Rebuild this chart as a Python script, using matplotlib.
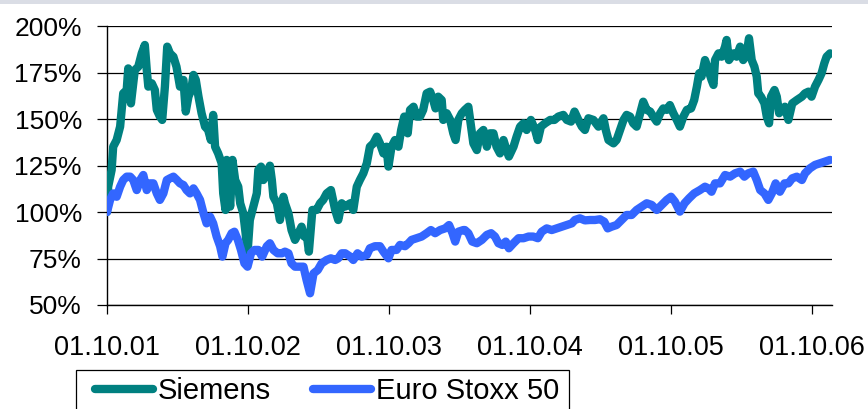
import matplotlib
matplotlib.use("Agg")
import matplotlib.pyplot as plt
import matplotlib.dates as mdates
from matplotlib.ticker import FuncFormatter, FixedLocator
from matplotlib.patches import Rectangle
import numpy as np
import pandas as pd

plt.rcParams['font.family'] = ['Liberation Sans', 'DejaVu Sans']

start_date = "2001-10-01"
end_date = "2006-11-22"

# Days after 01.10.2001 and indexed performance (%)
siemens_days = [0, 3, 12, 16, 25, 34, 42, 51, 55, 62, 72, 81, 90, 98, 103, 107, 116, 124, 129, 137,
                143, 150, 156, 163, 172, 180, 189, 198, 204, 211, 218, 224, 230, 237, 245, 254, 262,
                269, 275, 280, 288, 297, 301, 307, 310, 319, 325, 332, 340, 345, 353, 359, 364, 370,
                379, 388, 392, 399, 405, 414, 422, 427, 431, 440, 448, 457, 461, 470, 478, 487, 496,
                504, 511, 517, 523, 532, 543, 552, 560, 569, 580, 591, 599, 608, 617, 630, 638, 647,
                655, 664, 673, 681, 690, 699, 707, 716, 724, 729, 737, 746, 755, 762, 770, 779, 785,
                794, 802, 811, 819, 828, 837, 845, 851, 858, 867, 871, 880, 889, 897, 903, 910, 919,
                927, 936, 943, 949, 958, 966, 975, 984, 992, 1001, 1009, 1018, 1027, 1035, 1041, 1053,
                1061, 1070, 1079, 1087, 1098, 1109, 1116, 1124, 1135, 1148, 1159, 1169, 1182, 1191,
                1202, 1211, 1221, 1230, 1238, 1247, 1260, 1273, 1286, 1292, 1299, 1312, 1320, 1329,
                1338, 1346, 1355, 1363, 1372, 1381, 1389, 1398, 1407, 1415, 1424, 1433, 1441, 1450,
                1458, 1467, 1476, 1484, 1493, 1502, 1513, 1521, 1528, 1534, 1540, 1547, 1549, 1558,
                1566, 1571, 1575, 1584, 1592, 1601, 1605, 1611, 1623, 1631, 1640, 1648, 1657, 1663,
                1670, 1677, 1683, 1687, 1694, 1703, 1709, 1715, 1720, 1729, 1735, 1741, 1748, 1756,
                1765, 1775, 1787, 1800, 1808, 1817, 1825, 1834, 1843, 1851, 1858, 1864, 1873]
siemens_pct = [100.0, 113.6, 122.6, 135.1, 138.7, 145.9, 163.8, 165.6, 177.2, 158.4, 176.3, 178.1,
               185.3, 189.8, 176.3, 167.4, 169.2, 165.6, 154.9, 151.3, 149.5, 167.4, 188.9, 185.3,
               183.5, 178.1, 167.4, 171.0, 154.0, 162.0, 165.6, 173.7, 171.0, 162.0, 153.1, 145.9,
               144.1, 138.7, 152.2, 135.1, 131.5, 126.2, 110.0, 101.1, 128.0, 102.9, 128.0, 117.2,
               113.6, 104.7, 99.3, 88.6, 77.8, 95.7, 102.9, 110.0, 122.6, 124.4, 117.2, 120.8, 124.9,
               117.2, 108.2, 104.7, 95.7, 108.2, 104.7, 99.3, 90.3, 85.0, 88.6, 92.1, 86.8, 88.6, 78.7,
               101.1, 101.1, 104.7, 106.5, 110.0, 111.8, 101.1, 95.7, 104.7, 102.9, 104.7, 101.1,
               113.6, 117.2, 120.8, 126.2, 135.1, 136.9, 140.5, 136.9, 131.5, 135.1, 124.4, 135.1,
               138.7, 135.1, 144.1, 151.3, 142.3, 154.9, 156.6, 151.3, 151.3, 154.9, 163.8, 164.7,
               160.2, 155.7, 162.0, 160.2, 149.5, 153.1, 149.5, 142.3, 138.7, 149.5, 153.1, 154.9,
               156.6, 145.9, 136.9, 133.3, 142.3, 144.1, 135.1, 142.3, 142.3, 135.1, 131.5, 138.7,
               133.3, 129.8, 135.1, 140.5, 145.9, 147.7, 144.1, 149.5, 144.1, 138.7, 145.9, 147.7,
               149.5, 149.5, 151.3, 152.2, 149.5, 148.6, 154.0, 149.5, 145.9, 144.1, 150.4, 149.5,
               145.9, 150.4, 144.1, 138.7, 136.9, 138.7, 144.1, 149.5, 152.2, 151.3, 147.7, 145.9,
               153.1, 159.3, 154.9, 154.0, 151.3, 148.6, 153.1, 155.7, 154.9, 157.5, 153.1, 149.5,
               145.9, 151.3, 154.9, 155.7, 160.2, 167.4, 174.6, 172.8, 179.9, 181.7, 176.3, 171.0,
               168.3, 181.7, 185.3, 183.5, 188.9, 192.5, 181.7, 185.3, 183.5, 188.9, 181.7, 185.3,
               193.4, 181.7, 178.1, 172.8, 163.8, 162.0, 158.4, 151.3, 147.7, 162.0, 165.6, 162.0,
               153.1, 154.9, 156.6, 149.5, 158.4, 160.2, 162.0, 163.8, 164.7, 162.0, 167.4, 171.0,
               174.6, 179.9, 183.5, 185.3]

stoxx_days = [0, 8, 16, 25, 34, 42, 51, 60, 68, 77, 86, 94, 103, 111, 120, 129, 137, 146, 155, 163,
              172, 181, 189, 198, 206, 215, 224, 232, 241, 250, 258, 267, 275, 284, 293, 299, 307,
              314, 323, 330, 339, 347, 356, 364, 373, 382, 392, 402, 414, 422, 431, 442, 453, 461,
              470, 478, 487, 500, 509, 517, 526, 535, 546, 556, 569, 580, 591, 599, 608, 617, 630,
              638, 649, 660, 673, 681, 694, 707, 716, 729, 737, 750, 759, 772, 781, 789, 802, 815,
              828, 839, 850, 863, 876, 886, 895, 902, 910, 923, 927, 936, 946, 958, 971, 984, 995,
              1005, 1014, 1024, 1033, 1041, 1053, 1066, 1079, 1092, 1104, 1116, 1126, 1139, 1152,
              1165, 1178, 1191, 1204, 1212, 1225, 1238, 1251, 1264, 1277, 1288, 1297, 1307, 1320,
              1333, 1346, 1359, 1372, 1385, 1398, 1411, 1424, 1437, 1450, 1461, 1471, 1484, 1496,
              1508, 1521, 1536, 1549, 1558, 1566, 1575, 1588, 1601, 1614, 1627, 1640, 1651, 1661,
              1674, 1683, 1692, 1703, 1713, 1722, 1732, 1743, 1755, 1765, 1775, 1787, 1800, 1808,
              1821, 1834, 1847, 1860, 1873]
stoxx_pct = [100.0, 106.5, 110.0, 108.2, 113.6, 117.2, 119.0, 119.0, 117.2, 111.8, 117.2, 119.9,
             111.8, 115.4, 115.4, 110.0, 106.5, 110.0, 117.2, 118.1, 119.0, 117.2, 115.4, 114.5,
             111.8, 110.0, 112.7, 110.0, 106.5, 99.3, 93.9, 97.5, 93.9, 86.8, 81.6, 76.0, 83.2,
             85.0, 88.6, 89.4, 85.0, 79.6, 72.4, 70.6, 77.8, 79.6, 79.6, 76.0, 81.6, 83.2, 79.6,
             77.8, 77.8, 78.7, 77.8, 72.4, 70.6, 70.6, 70.6, 63.4, 56.3, 67.0, 68.8, 72.4, 74.2,
             75.1, 74.2, 75.1, 77.8, 77.8, 76.0, 74.2, 77.8, 76.0, 76.9, 80.5, 81.6, 81.6, 78.7,
             75.1, 79.6, 79.6, 82.3, 81.6, 83.2, 85.0, 85.9, 86.8, 88.6, 90.3, 88.6, 90.3, 91.2,
             93.0, 88.6, 84.1, 89.4, 90.3, 90.3, 88.6, 84.1, 83.2, 85.0, 87.7, 88.6, 86.8, 83.2,
             82.3, 84.1, 80.5, 83.2, 85.9, 85.9, 86.8, 86.8, 85.9, 89.4, 91.2, 90.3, 91.2, 92.1,
             93.0, 93.9, 95.7, 96.6, 95.5, 95.7, 95.7, 96.1, 94.8, 91.2, 92.1, 93.0, 95.7, 98.4,
             98.4, 101.1, 102.9, 104.7, 103.8, 101.1, 103.8, 106.5, 108.2, 105.6, 100.2, 104.7,
             107.4, 110.0, 111.8, 113.6, 112.7, 110.9, 115.4, 115.4, 119.9, 119.0, 120.8, 121.7,
             119.0, 120.8, 121.7, 117.2, 111.8, 110.0, 106.5, 110.0, 115.4, 110.9, 115.4, 115.4,
             118.1, 119.0, 117.2, 120.8, 123.5, 125.3, 126.2, 127.1, 128.0]

series_names = ["Siemens", "Euro Stoxx 50"]
series_colors = ["#008080", "#3366FF"]
y_ticks = [50, 75, 100, 125, 150, 175, 200]
x_tick_dates = ["2001-10-01", "2002-10-01", "2003-10-01", "2004-10-01", "2005-10-01", "2006-10-01"]

t0 = pd.Timestamp(start_date)
siemens_dates = t0 + pd.to_timedelta(siemens_days, unit="D")
stoxx_dates = t0 + pd.to_timedelta(stoxx_days, unit="D")

W, H = 868, 409
fig = plt.figure(figsize=(W / 100, H / 100), dpi=100)
fig.patches.append(Rectangle((0, 1 - 4 / H), 1, 4 / H, transform=fig.transFigure,
                             facecolor="#dadde5", edgecolor="none", zorder=0))
ax = fig.add_axes([107 / W, 1 - 305 / H, (832 - 107) / W, (305 - 26) / H])

for y in y_ticks:
    ax.axhline(y, color="#000000", lw=0.9, zorder=1)

lw = 6.0
ax.plot(siemens_dates, siemens_pct, color=series_colors[0], lw=lw,
        solid_joinstyle="round", solid_capstyle="round", label=series_names[0], zorder=3)
ax.plot(stoxx_dates, stoxx_pct, color=series_colors[1], lw=lw,
        solid_joinstyle="round", solid_capstyle="round", label=series_names[1], zorder=4)

ax.set_ylim(50, 200)
ax.set_xlim(pd.Timestamp(start_date), pd.Timestamp(end_date))
ax.yaxis.set_major_locator(FixedLocator(y_ticks))
ax.yaxis.set_major_formatter(FuncFormatter(lambda v, p: f"{int(v)}%"))
ax.set_xticks([pd.Timestamp(d) for d in x_tick_dates])
ax.xaxis.set_major_formatter(mdates.DateFormatter("%d.%m.%y"))

for s in ["top", "right"]:
    ax.spines[s].set_visible(False)
for s in ["left", "bottom"]:
    ax.spines[s].set_color("#000000")
    ax.spines[s].set_linewidth(1.0)

ax.tick_params(axis="y", direction="out", length=7, width=0.9, pad=11, labelsize=19)
ax.tick_params(axis="x", direction="out", length=6.5, width=0.9, pad=15, labelsize=19.5)

# Legend frame (extends below the figure edge like the reference)
fig.patches.append(Rectangle((76 / W, -0.05), (569 - 76) / W, (1 - 370 / H) + 0.05,
                             transform=fig.transFigure, facecolor="white",
                             edgecolor="#000000", lw=0.9, zorder=1))
leg = fig.legend(loc="center left", bbox_to_anchor=(95 / W, 1 - 391 / H), ncol=2,
                 fontsize=21, frameon=False, handlelength=2.0, handletextpad=0.15,
                 columnspacing=1.45, borderpad=0, borderaxespad=0)
for line in leg.get_lines():
    line.set_linewidth(lw)
    line.set_solid_capstyle("round")

fig.savefig("out.png", dpi=100)
